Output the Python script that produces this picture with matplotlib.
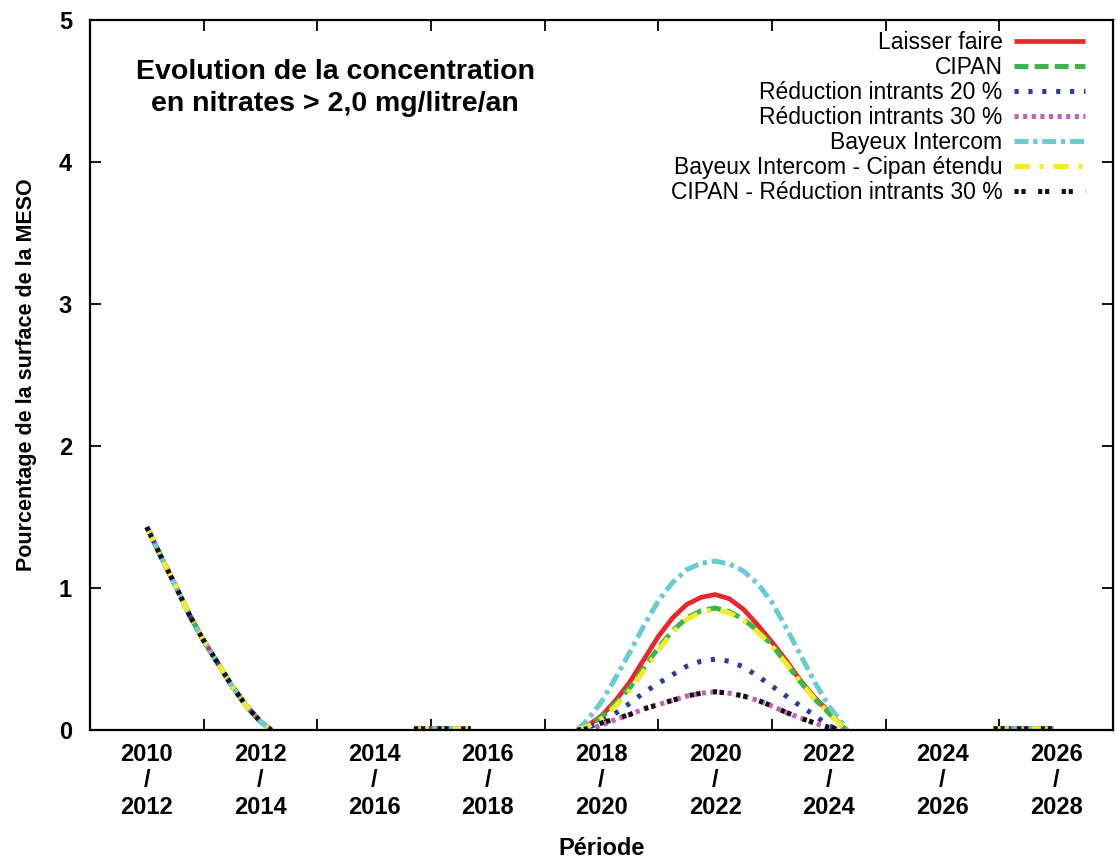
import numpy as np
import matplotlib
matplotlib.use("Agg")
import matplotlib.pyplot as plt

plt.rcParams['font.family'] = ['Liberation Sans', 'DejaVu Sans']
plt.rcParams['lines.scale_dashes'] = False

nan = np.nan

# debut de la periode : toutes les simulations sont confondues
x_debut = [2010.0, 2010.25, 2010.5, 2010.75, 2011.0, 2011.25, 2011.5, 2011.75, 2012.0, 2012.19]
y_debut = [1.43, 1.22, 1.02, 0.81, 0.63, 0.47, 0.31, 0.17, 0.06, 0.0]

# petites traces au ras de zero
x_trace1 = [2014.7, 2015.2, 2015.7]
x_trace2 = [2024.9, 2025.4, 2025.95]
y_trace = [0.01, 0.01, 0.01]

# bosse autour de 2020
x_bosse = [2017.57, 2017.75, 2018.0, 2018.25, 2018.5, 2018.75, 2019.0, 2019.25, 2019.5, 2019.75,
           2020.0, 2020.25, 2020.5, 2020.75, 2021.0, 2021.25, 2021.5, 2021.75, 2022.0, 2022.25, 2022.32]
laisser_faire = [0, 0.03, 0.10, 0.21, 0.34, 0.50, 0.66, 0.79, 0.885, 0.935,
                 0.955, 0.925, 0.85, 0.74, 0.62, 0.49, 0.35, 0.23, 0.13, 0.02, 0]
cipan = [0, 0.03, 0.09, 0.19, 0.30, 0.44, 0.58, 0.70, 0.79, 0.84,
         0.86, 0.835, 0.78, 0.70, 0.60, 0.47, 0.34, 0.22, 0.12, 0.02, 0]
reduc20 = [0, 0.015, 0.06, 0.12, 0.19, 0.265, 0.33, 0.39, 0.45, 0.485,
           0.50, 0.485, 0.445, 0.38, 0.31, 0.24, 0.17, 0.105, 0.03, 0, nan]
reduc30 = [nan, 0, 0.035, 0.075, 0.11, 0.15, 0.18, 0.21, 0.24, 0.26,
           0.27, 0.26, 0.24, 0.21, 0.17, 0.125, 0.085, 0.05, 0.015, 0, nan]
bayeux = [0, 0.07, 0.20, 0.37, 0.55, 0.74, 0.91, 1.04, 1.13, 1.175,
          1.19, 1.17, 1.12, 1.03, 0.90, 0.72, 0.53, 0.34, 0.17, 0.04, 0]
bayeux_cipan = [0, 0.025, 0.08, 0.17, 0.28, 0.42, 0.56, 0.69, 0.78, 0.83,
                0.85, 0.825, 0.77, 0.69, 0.59, 0.47, 0.34, 0.22, 0.12, 0.02, 0]
cipan_reduc30 = [0, 0.01, 0.05, 0.08, 0.11, 0.15, 0.18, 0.21, 0.24, 0.26,
                 0.27, 0.26, 0.24, 0.21, 0.17, 0.125, 0.085, 0.05, 0.02, 0, nan]

noms = ['Laisser faire', 'CIPAN', 'Réduction intrants 20 %', 'Réduction intrants 30 %',
        'Bayeux Intercom', 'Bayeux Intercom - Cipan étendu', 'CIPAN - Réduction intrants 30 %']
series = [laisser_faire, cipan, reduc20, reduc30, bayeux, bayeux_cipan, cipan_reduc30]
couleurs = ['#e8262b', '#3cb64a', '#2a3e96', '#c163b5', '#6ccbd0', '#f2ec2a', '#111111']
tirets = [None, (0, (10, 4.5)), (0, (3, 7)), (0, (3, 3.2)), (0, (10, 3.5, 3, 3.5)),
          (0, (11, 7, 3, 7)), (0, (3, 2, 3, 9))]

annees = list(range(2010, 2027, 2))

x_tout = x_debut + [nan] + x_trace1 + [nan] + x_bosse + [nan] + x_trace2

fig = plt.figure(figsize=(11.17, 8.6), dpi=100)
ax = fig.add_axes([0.0806, 0.151, 0.9158, 0.8257])

for nom, y, c, t in zip(noms, series, couleurs, tirets):
    y_tout = y_debut + [nan] + y_trace + [nan] + y + [nan] + y_trace
    if t is None:
        ax.plot(x_tout, y_tout, color=c, lw=3.4, label=nom, solid_capstyle='butt')
    else:
        ax.plot(x_tout, y_tout, color=c, lw=3.6, linestyle=t, label=nom, dash_capstyle='butt')

ax.set_xlim(2009, 2027)
ax.set_ylim(0, 5)
ax.set_xticks(annees)
ax.set_xticklabels([f"{a}\n/\n{a + 2}" for a in annees], fontsize=17, fontweight='bold', linespacing=1.2)
ax.set_xticks(range(2011, 2027, 2), minor=True)
ax.tick_params(axis='x', which='major', length=0, pad=9)
ax.tick_params(axis='x', which='minor', direction='in', length=8, width=1.3, top=True)
ax.set_yticks(range(0, 6))
ax.set_yticklabels([str(v) for v in range(0, 6)], fontsize=17, fontweight='bold')
ax.tick_params(axis='y', direction='in', length=8, width=1.3, right=True, pad=13)
for s in ax.spines.values():
    s.set_linewidth(1.6)

ax.set_ylabel('Pourcentage de la surface de la MESO', fontsize=15.5, fontweight='bold')
ax.yaxis.set_label_coords(-0.052, 0.5)
ax.set_xlabel('Période', fontsize=17, fontweight='bold')
ax.xaxis.set_label_coords(0.5, -0.15)

ax.text(0.2395, 0.945, 'Evolution de la concentration\nen nitrates > 2,0 mg/litre/an',
        transform=ax.transAxes, ha='center', va='top', fontsize=20.5, fontweight='bold',
        linespacing=1.3)

ax.legend(loc='upper right', bbox_to_anchor=(0.9726, 0.985), frameon=False, markerfirst=False,
          fontsize=16.5, handlelength=3.1, handletextpad=0.5, labelspacing=0.09,
          borderaxespad=0, borderpad=0)

fig.savefig('out.png', dpi=100)
